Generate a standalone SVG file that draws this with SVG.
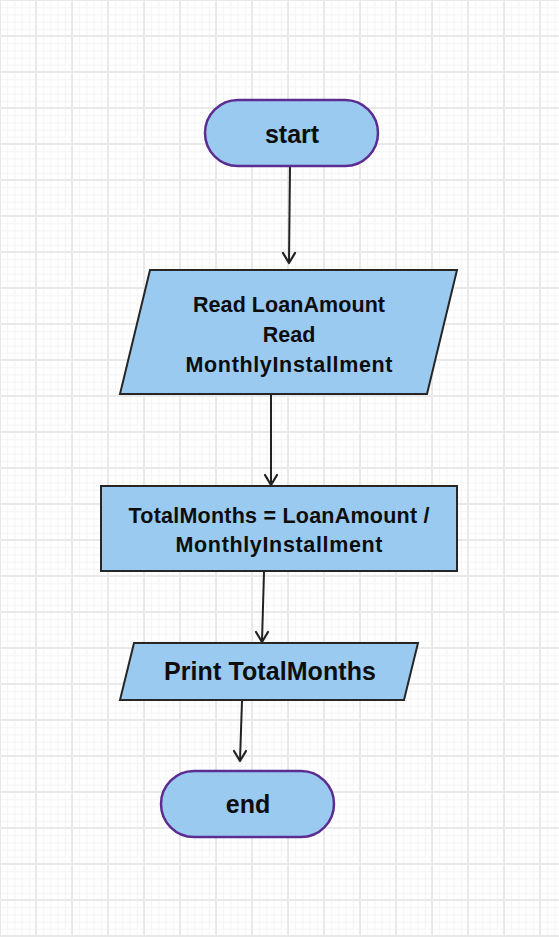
<svg xmlns="http://www.w3.org/2000/svg" width="559" height="937" viewBox="0 0 559 937">
<defs>
<pattern id="grid" patternUnits="userSpaceOnUse" x="-1" y="-1" width="36" height="36">
<rect width="36" height="36" fill="#ffffff"/>
<g fill="#f5f5f5">
<rect x="8.2" y="0" width="1" height="36"/><rect x="15.4" y="0" width="1" height="36"/><rect x="22.6" y="0" width="1" height="36"/><rect x="29.8" y="0" width="1" height="36"/>
<rect y="8.2" x="0" height="1" width="36"/><rect y="15.4" x="0" height="1" width="36"/><rect y="22.6" x="0" height="1" width="36"/><rect y="29.8" x="0" height="1" width="36"/>
</g>
<rect x="0" y="0" width="2" height="36" fill="#e9e9e9"/>
<rect x="0" y="0" width="36" height="2" fill="#e9e9e9"/>
</pattern>
<style>
.term{fill:#9acaef;stroke:#5c2d91;stroke-width:2.5}
.proc{fill:#9acaef;stroke:#262626;stroke-width:2}
.lbl{font-family:"Liberation Sans",Arial,sans-serif;font-weight:bold;fill:#0d0d0d;text-anchor:middle}
.s22{font-size:21.5px}
.s25{font-size:25px}
.conn{fill:none;stroke:#222;stroke-width:2}
.ah{fill:none;stroke:#222;stroke-width:2.2;stroke-linecap:round;stroke-linejoin:round}
</style>
</defs>
<rect width="559" height="937" fill="url(#grid)"/>
<g id="connectors">
<path class="conn" d="M290 167 L289 262"/>
<path class="ah" d="M283 253 L289 263 L295 253"/>
<path class="conn" d="M271 395 L271 484"/>
<path class="ah" d="M265 475 L271 485 L277 475"/>
<path class="conn" d="M264 572 L262 641"/>
<path class="ah" d="M256 632 L262 642 L268 632"/>
<path class="conn" d="M242 701 L240 760"/>
<path class="ah" d="M234 751 L240 761 L246 751"/>
</g>
<g id="start">
<rect class="term" x="205" y="100" width="173" height="66" rx="33" ry="33"/>
<text class="lbl s25" x="292" y="143">start</text>
</g>
<g id="read">
<polygon class="proc" points="150,270 457,270 427,394 120,394"/>
<text class="lbl s22" x="289" y="312" textLength="192">Read LoanAmount</text>
<text class="lbl s22" x="289" y="342">Read</text>
<text class="lbl s22" x="289" y="372" textLength="207">MonthlyInstallment</text>
</g>
<g id="compute">
<rect class="proc" x="101" y="486" width="356" height="85"/>
<text class="lbl s22" x="279" y="523" textLength="301">TotalMonths = LoanAmount /</text>
<text class="lbl s22" x="279" y="552" textLength="207">MonthlyInstallment</text>
</g>
<g id="print">
<polygon class="proc" points="134,643 418,643 404,700 120,700"/>
<text class="lbl s25" x="270" y="680" textLength="212">Print TotalMonths</text>
</g>
<g id="end">
<rect class="term" x="161" y="771" width="173" height="66" rx="33" ry="33"/>
<text class="lbl s25" x="248" y="813">end</text>
</g>
</svg>
